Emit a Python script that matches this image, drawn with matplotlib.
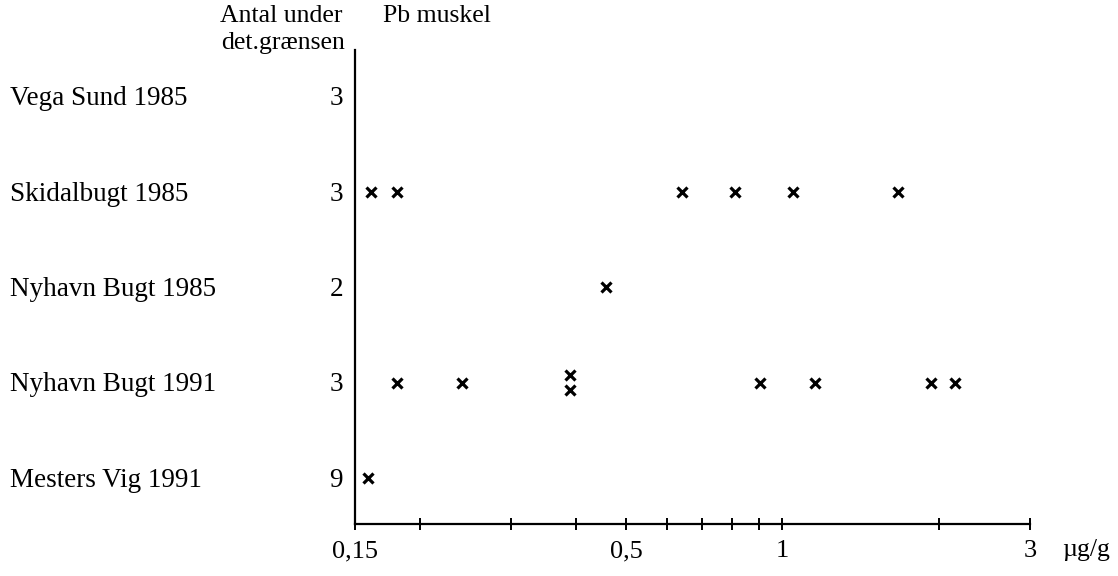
import matplotlib
matplotlib.use("Agg")
import matplotlib.pyplot as plt
import matplotlib.transforms as mtransforms
from matplotlib.ticker import FixedLocator, FixedFormatter, NullLocator

plt.rcParams['font.family'] = ['Liberation Serif', 'DejaVu Serif']

sites = ["Vega Sund 1985", "Skidalbugt 1985", "Nyhavn Bugt 1985",
         "Nyhavn Bugt 1991", "Mesters Vig 1991"]
below_limit = [3, 3, 2, 3, 9]
vega_sund_1985 = []
skidalbugt_1985 = [0.161, 0.181, 0.64, 0.81, 1.05, 1.67]
nyhavn_bugt_1985 = [0.457]
nyhavn_bugt_1991 = [0.181, 0.241, 0.39, 0.39, 0.905, 1.155, 1.93, 2.15]
mesters_vig_1991 = [0.159]
series = [vega_sund_1985, skidalbugt_1985, nyhavn_bugt_1985,
          nyhavn_bugt_1991, mesters_vig_1991]

tick_values = [0.15, 0.2, 0.3, 0.4, 0.5, 0.6, 0.7, 0.8, 0.9, 1, 2, 3]
tick_labels = ["0,15", "", "", "", "0,5", "", "", "", "", "1", "", "3"]

W, H = 1118, 576
fig = plt.figure(figsize=(W / 100, H / 100), dpi=100)
ax = fig.add_axes([355 / W, (H - 524) / H, (1030 - 355) / W, (524 - 50) / H])

ax.set_xscale('log')
ax.set_xlim(0.15, 3)
ax.set_ylim(-0.48, 4.49)

n = len(sites)
trans = mtransforms.blended_transform_factory(fig.transFigure, ax.transData)
for i, (name, cnt, vals) in enumerate(zip(sites, below_limit, series)):
    y = n - 1 - i
    # stack duplicate values vertically
    totals = {}
    for v in vals:
        totals[v] = totals.get(v, 0) + 1
    counts = {}
    xs, ys = [], []
    for v in vals:
        k = counts.get(v, 0)
        counts[v] = k + 1
        off = (k - (totals[v] - 1) / 2) * 0.16
        xs.append(v)
        ys.append(y - off)
    if xs:
        ax.plot(xs, ys, linestyle='none', marker='x', markersize=7,
                markeredgewidth=2.3, color='black', clip_on=False)
    ax.text(10 / W, y - 0.02, name, transform=trans, ha='left', va='center',
            fontsize=19.5)
    ax.text(343 / W, y - 0.02, str(cnt), transform=trans, ha='right',
            va='center', fontsize=19.5)

fig.text(343 / W, 1 - 16 / H, "Antal under", ha='right', va='center', fontsize=18.5)
fig.text(345 / W, 1 - 43 / H, "det.grænsen", ha='right', va='center', fontsize=18.5)
fig.text(383 / W, 1 - 16 / H, "Pb muskel", ha='left', va='center', fontsize=18.5)
fig.text(1062 / W, 1 - 550 / H, "µg/g", ha='left', va='center', fontsize=18.5)

for s in ['top', 'right']:
    ax.spines[s].set_visible(False)
for s in ['left', 'bottom']:
    ax.spines[s].set_linewidth(1.6)

ax.xaxis.set_major_locator(FixedLocator(tick_values))
ax.xaxis.set_major_formatter(FixedFormatter(tick_labels))
ax.xaxis.set_minor_locator(NullLocator())
ax.tick_params(axis='x', direction='inout', length=9, width=1.4,
               labelsize=19, pad=7)
ax.set_yticks([])

fig.savefig("out.png", dpi=100)
